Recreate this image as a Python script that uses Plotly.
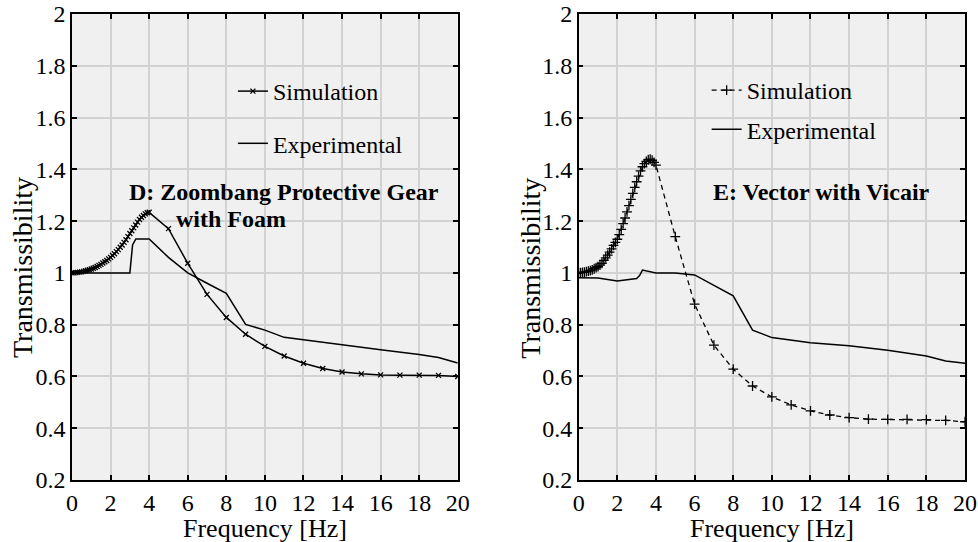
import plotly.graph_objects as go

# ---------------- data ----------------
# D: Zoombang Protective Gear with Foam
sim_d_x = [0.0, 0.1, 0.2, 0.3, 0.4, 0.5, 0.6, 0.7, 0.8, 0.9,
           1.0, 1.1, 1.2, 1.3, 1.4, 1.5, 1.6, 1.7, 1.8, 1.9,
           2.0, 2.1, 2.2, 2.3, 2.4, 2.5, 2.6, 2.7, 2.8, 2.9,
           3.0, 3.1, 3.2, 3.3, 3.4, 3.5, 3.6, 3.7, 3.8, 3.9,
           4.0, 5, 6, 7, 8, 9, 10, 11, 12, 13, 14, 15, 16, 17, 18, 19, 20]
sim_d_y = [1.000, 1.000, 1.001, 1.002, 1.003, 1.004, 1.006, 1.008, 1.010, 1.012,
           1.015, 1.018, 1.021, 1.025, 1.029, 1.033, 1.038, 1.043, 1.048, 1.054,
           1.060, 1.067, 1.074, 1.082, 1.090, 1.099, 1.108, 1.118, 1.128, 1.140,
           1.152, 1.163, 1.174, 1.185, 1.196, 1.206, 1.215, 1.222, 1.228, 1.232,
           1.234, 1.171, 1.037, 0.917, 0.828, 0.763, 0.716, 0.679, 0.651, 0.631,
           0.617, 0.610, 0.606, 0.605, 0.605, 0.604, 0.600]
exp_d_x = [0, 1, 2, 3.0, 3.14, 3.31, 4.0, 4.5, 5, 5.5, 6, 7, 8, 9, 10, 11, 12, 14, 16, 18, 19, 20]
exp_d_y = [1.0, 1.0, 1.0, 1.0, 1.108, 1.131, 1.131, 1.095, 1.06, 1.03, 1.0, 0.96, 0.921,
           0.801, 0.779, 0.751, 0.742, 0.722, 0.703, 0.685, 0.673, 0.652]

# E: Vector with Vicair
sim_e_x = [0.0, 0.1, 0.2, 0.3, 0.4, 0.5, 0.6, 0.7, 0.8, 0.9,
           1.0, 1.1, 1.2, 1.3, 1.4, 1.5, 1.6, 1.7, 1.8, 1.9,
           2.0, 2.1, 2.2, 2.3, 2.4, 2.5, 2.6, 2.7, 2.8, 2.9,
           3.0, 3.1, 3.2, 3.3, 3.4, 3.5, 3.6, 3.7, 3.8, 3.9,
           4.0, 5, 6, 7, 8, 9, 10, 11, 12, 13, 14, 15, 16, 17, 18, 19, 20]
sim_e_y = [1.000, 1.001, 1.002, 1.003, 1.005, 1.007, 1.009, 1.012, 1.016, 1.020,
           1.024, 1.030, 1.037, 1.048, 1.058, 1.069, 1.080, 1.093, 1.106, 1.118,
           1.130, 1.148, 1.168, 1.190, 1.212, 1.236, 1.260, 1.284, 1.307, 1.330,
           1.352, 1.374, 1.394, 1.410, 1.422, 1.431, 1.437, 1.439, 1.435, 1.427,
           1.416, 1.140, 0.879, 0.721, 0.628, 0.563, 0.521, 0.490, 0.467, 0.451,
           0.441, 0.435, 0.434, 0.434, 0.433, 0.430, 0.425]
exp_e_x = [0, 1, 2, 3.0, 3.15, 3.3, 4, 5, 6, 7, 8, 9, 10, 12, 14, 16, 18, 19, 20]
exp_e_y = [0.981, 0.980, 0.969, 0.978, 0.99, 1.011, 1.0, 1.0, 0.992, 0.95, 0.911,
           0.779, 0.75, 0.730, 0.719, 0.701, 0.679, 0.66, 0.651]

x_ticks = [0, 2, 4, 6, 8, 10, 12, 14, 16, 18, 20]
y_ticks = [0.2, 0.4, 0.6, 0.8, 1.0, 1.2, 1.4, 1.6, 1.8, 2.0]
y_tick_text = ["0.2", "0.4", "0.6", "0.8", "1", "1.2", "1.4", "1.6", "1.8", "2"]

FONT = "Liberation Serif, Times New Roman, serif"

W, H = 978, 542
# plotting region in page pixels
L, R, T, B = 72, 965.5, 14, 480


def px(p):
    return (p - L) / (R - L)


def py(p):
    return (B - p) / (B - T)


fig = go.Figure()

fig.add_trace(go.Scatter(x=sim_d_x, y=sim_d_y, mode="lines+markers", name="Simulation",
                         line=dict(color="black", width=1.5),
                         marker=dict(symbol="x-thin", size=5, line=dict(width=1.3, color="black")),
                         xaxis="x", yaxis="y", legend="legend", legendgroup="a"))
fig.add_trace(go.Scatter(x=exp_d_x, y=exp_d_y, mode="lines", name="Experimental",
                         line=dict(color="black", width=1.5),
                         xaxis="x", yaxis="y", legend="legend", legendgroup="b"))
fig.add_trace(go.Scatter(x=sim_e_x, y=sim_e_y, mode="lines+markers", name="Simulation",
                         line=dict(color="black", width=1.3, dash="5px,4px"),
                         marker=dict(symbol="cross-thin", size=7, line=dict(width=1.3, color="black")),
                         xaxis="x2", yaxis="y2", legend="legend2", legendgroup="c"))
fig.add_trace(go.Scatter(x=exp_e_x, y=exp_e_y, mode="lines", name="Experimental",
                         line=dict(color="black", width=1.5),
                         xaxis="x2", yaxis="y2", legend="legend2", legendgroup="d"))


def xax(dom, anchor):
    return dict(domain=dom, anchor=anchor, range=[0, 20], tickvals=x_ticks, automargin=False,
                ticklabeloverflow="allow",
                showline=True, linecolor="black", linewidth=1.5, mirror="ticks",
                ticks="inside", ticklen=5, tickwidth=1.5, tickcolor="black",
                showgrid=True, gridcolor="#d2d2d2", gridwidth=1.5, zeroline=False,
                tickfont=dict(family=FONT, size=24, color="black"))


def yax(dom, anchor):
    return dict(domain=dom, anchor=anchor, range=[0.2, 2.0], tickvals=y_ticks, ticktext=y_tick_text,
                automargin=False, ticklabeloverflow="allow",
                showline=True, linecolor="black", linewidth=1.5, mirror="ticks",
                ticks="inside", ticklen=5, tickwidth=1.5, tickcolor="black",
                showgrid=True, gridcolor="#d2d2d2", gridwidth=1.5, zeroline=False,
                tickfont=dict(family=FONT, size=24, color="black"))


def ann(text, x, y, size=24, angle=0):
    return dict(text=text, x=px(x), y=py(y), xref="paper", yref="paper", showarrow=False,
                xanchor="center", yanchor="middle", textangle=angle,
                font=dict(family=FONT, size=size, color="black"))


fig.update_layout(
    width=W, height=H,
    margin=dict(l=L, r=W - R, t=T, b=H - B, autoexpand=False),
    paper_bgcolor="white", plot_bgcolor="#f0f0f0",
    font=dict(family=FONT, color="black"),
    xaxis=xax([0, px(458)], "y"),
    yaxis=yax([0, 1], "x"),
    xaxis2=xax([px(579), 1], "y2"),
    yaxis2=yax([0, 1], "x2"),
    legend=dict(x=px(233), y=py(69), xanchor="left", yanchor="top",
                bgcolor="rgba(0,0,0,0)", font=dict(family=FONT, size=24, color="black"),
                traceorder="grouped", tracegroupgap=18, itemwidth=30),
    legend2=dict(x=px(707), y=py(68), xanchor="left", yanchor="top",
                 bgcolor="rgba(0,0,0,0)", font=dict(family=FONT, size=24, color="black"),
                 traceorder="grouped", tracegroupgap=5, itemwidth=30),
    annotations=[
        ann("<b>D: Zoombang Protective Gear</b>", 284, 192),
        ann("<b>with Foam</b>", 231, 219),
        ann("<b>E: Vector with Vicair</b>", 822, 192),
        ann("Frequency [Hz]", 265, 528, size=26),
        ann("Frequency [Hz]", 772, 528, size=26),
        ann("Transmissibility", 22, 268, size=28, angle=-90),
        ann("Transmissibility", 530, 268, size=28, angle=-90),
    ],
)

fig.write_html("out.html", config={"displayModeBar": False},
               post_script="document.body.style.margin='0px';")
